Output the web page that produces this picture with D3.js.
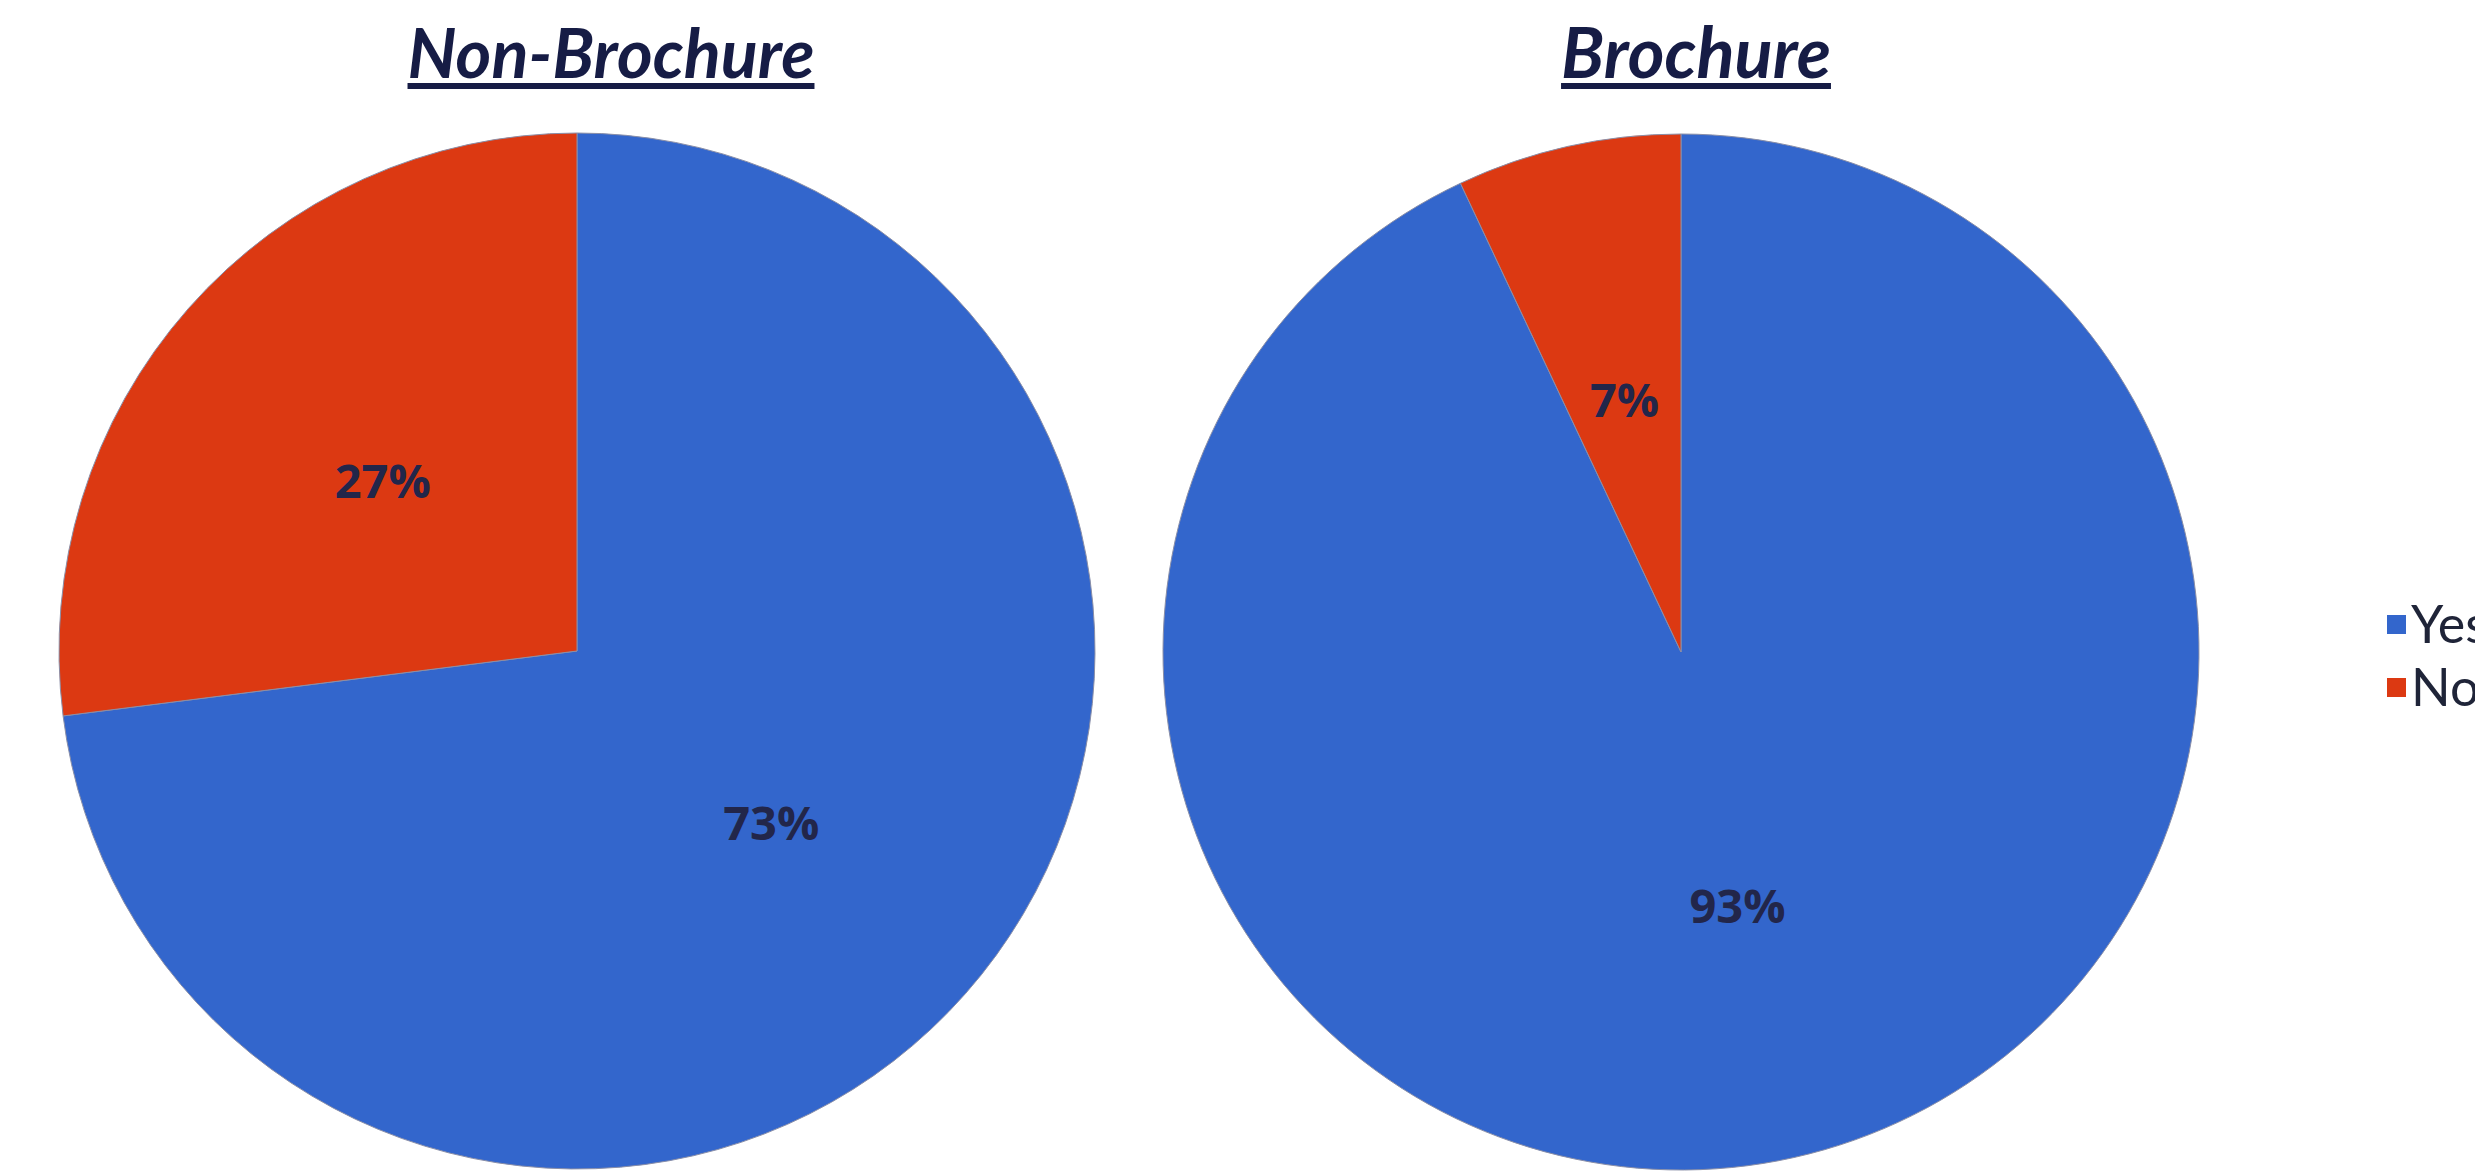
<!DOCTYPE html>
<html>
<head>
<meta charset="utf-8">
<script src="https://cdn.jsdelivr.net/npm/d3@7"></script>
<style>
  html, body { margin: 0; padding: 0; background: #ffffff; }
  svg { display: block; }
</style>
</head>
<body>
<svg id="chart" width="2475" height="1174"></svg>
<script>
// ---- data ----
const categories = ["Yes", "No"];
const chartTitles = ["Non-Brochure", "Brochure"];
const nonBrochureValues = [73, 27];
const brochureValues = [93, 7];
const seriesColors = ["#3366CC", "#DC3912"];

const W = 2475, H = 1174;
const svg = d3.select("#chart");
const radius = 518;
const centers = [{x: 577, y: 651}, {x: 1681, y: 652}];
const titleCenters = [611, 1696];
const titleWidths = [407, 270];

const color = d3.scaleOrdinal().domain(categories).range(seriesColors);
const pie = d3.pie().sort(null).value(d => d.value);
const arc = d3.arc().innerRadius(0).outerRadius(radius);

const datasets = [nonBrochureValues, brochureValues];

datasets.forEach((vals, i) => {
  const data = categories.map((c, j) => ({cat: c, value: vals[j]}));
  const total = d3.sum(vals);
  const g = svg.append("g").attr("transform", `translate(${centers[i].x},${centers[i].y})`);
  const arcs = pie(data);
  g.selectAll("path").data(arcs).join("path")
    .attr("d", arc)
    .attr("fill", d => color(d.data.cat))
    .attr("stroke", "#8a8fa8")
    .attr("stroke-width", 1);
  g.selectAll("text.lbl").data(arcs).join("text")
    .attr("class", "lbl")
    .attr("transform", d => `translate(${arc.centroid(d)})`)
    .attr("text-anchor", "middle")
    .attr("dominant-baseline", "central")
    .attr("font-family", "'Open Sans', sans-serif")
    .attr("font-weight", "bold")
    .attr("font-size", 47)
    .attr("fill", "#22264a")
    .text(d => Math.round(d.data.value / total * 100) + "%");

  // title
  const t = svg.append("text")
    .attr("x", titleCenters[i])
    .attr("y", 78)
    .attr("text-anchor", "middle")
    .attr("font-family", "Lato, 'Open Sans', sans-serif")
    .attr("font-style", "italic")
    .attr("font-weight", "bold")
    .attr("font-size", 64)
    .attr("fill", "#161c45")
    .text(chartTitles[i]);
  const w = t.node().getComputedTextLength();
  const fs = 64 * titleWidths[i] / w;
  t.attr("font-size", Math.min(fs, 72));
  const w2 = t.node().getComputedTextLength();
  svg.append("rect")
    .attr("x", titleCenters[i] - w2 / 2)
    .attr("y", 83)
    .attr("width", w2)
    .attr("height", 6)
    .attr("fill", "#161c45");
});

// legend
const legend = svg.append("g").attr("transform", "translate(2387,615)");
const items = legend.selectAll("g").data(categories).join("g")
  .attr("transform", (d, i) => `translate(0,${i * 63})`);
items.append("rect")
  .attr("width", 19).attr("height", 19)
  .attr("fill", d => color(d));
items.append("text")
  .attr("x", 24)
  .attr("y", 28)
  .attr("font-family", "Lato, 'Open Sans', sans-serif")
  .attr("font-size", 52)
  .attr("fill", "#1f2438")
  .text(d => d);
</script>
</body>
</html>
